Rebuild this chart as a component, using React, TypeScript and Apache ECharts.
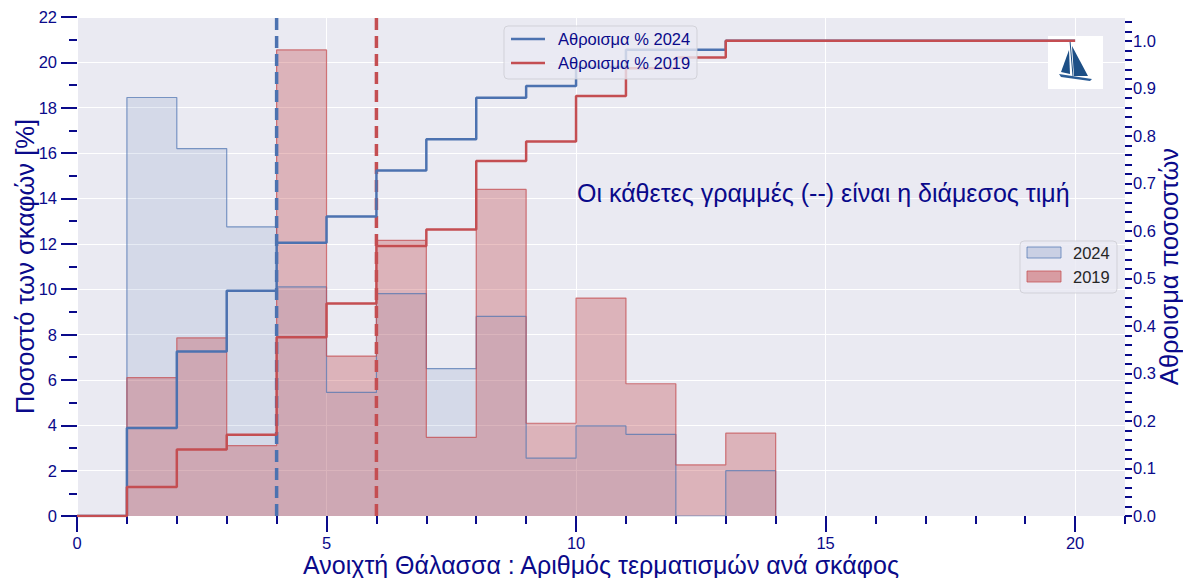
import React, { useEffect, useRef } from "react";
import * as echarts from "echarts";

// bin start values (bins of width 1)
const binStarts = [0, 1, 2, 3, 4, 5, 6, 7, 8, 9, 10, 11, 12, 13, 14, 15, 16, 17, 18, 19];
const binEnd = 20;
// percentage of boats per bin
const pct2024 = [0, 18.45, 16.2, 12.75, 10.1, 5.45, 9.8, 6.5, 8.8, 2.55, 3.97, 3.6, 0, 2.0, 0, 0, 0, 0, 0, 0];
const pct2019 = [0, 6.1, 7.85, 3.1, 20.55, 7.05, 12.15, 3.47, 14.4, 4.09, 9.61, 5.83, 2.25, 3.65, 0, 0, 0, 0, 0, 0];
// cumulative fractions per bin
const cum2024 = [0, 0.185, 0.346, 0.474, 0.575, 0.63, 0.727, 0.793, 0.88, 0.905, 0.945, 0.981, 0.981, 1.0, 1.0, 1.0, 1.0, 1.0, 1.0, 1.0];
const cum2019 = [0, 0.061, 0.14, 0.171, 0.376, 0.447, 0.568, 0.603, 0.747, 0.788, 0.884, 0.942, 0.965, 1.0, 1.0, 1.0, 1.0, 1.0, 1.0, 1.0];
// medians
const median2024 = 4;
const median2019 = 6;

// ticks
const xMajorTicks = [0, 5, 10, 15, 20];
const xMinorTicks = [1, 2, 3, 4, 6, 7, 8, 9, 11, 12, 13, 14, 16, 17, 18, 19, 21];
const yLeftMajorTicks = [0, 2, 4, 6, 8, 10, 12, 14, 16, 18, 20, 22];
const yLeftMinorTicks = [1, 3, 5, 7, 9, 11, 13, 15, 17, 19, 21];
const yRightLabels = [0, 0.1, 0.2, 0.3, 0.4, 0.5, 0.6, 0.7, 0.8, 0.9, 1.0];
const yRightTicks = [
  0, 0.02, 0.04, 0.06, 0.08, 0.1, 0.12, 0.14, 0.16, 0.18, 0.2, 0.22, 0.24, 0.26, 0.28, 0.3,
  0.32, 0.34, 0.36, 0.38, 0.4, 0.42, 0.44, 0.46, 0.48, 0.5, 0.52, 0.54, 0.56, 0.58, 0.6,
  0.62, 0.64, 0.66, 0.68, 0.7, 0.72, 0.74, 0.76, 0.78, 0.8, 0.82, 0.84, 0.86, 0.88, 0.9,
  0.92, 0.94, 0.96, 0.98, 1.0, 1.02, 1.04,
];

const seriesNames = ["2024", "2019"];
const lineLegendNames = ["Αθροισμα % 2024", "Αθροισμα % 2019"];
const xTitle = "Ανοιχτή Θάλασσα : Αριθμός τερματισμών ανά σκάφος";
const yLeftTitle = "Ποσοστό των σκαφών [%]";
const yRightTitle = "Αθροισμα ποσοστών";
const note = "Οι κάθετες γραμμές (--) είναι η διάμεσος τιμή";

const BLUE = "#4c72b0";
const RED = "#c44e52";
const NAVY = "#0a0a8a";
const FONT = "'Liberation Sans', Arial, sans-serif";
const TICK_FONT = 16.5;

function stepPoints(values: number[]) {
  const pts: number[][] = binStarts.map((x, i) => [x, values[i]]);
  pts.push([binEnd, values[values.length - 1]]);
  return pts;
}

// histogram outline limited to the span of non-empty bins
function histPoints(values: number[]) {
  const first = values.findIndex((v) => v > 0);
  let last = values.length - 1;
  while (last > 0 && values[last] === 0) last--;
  const pts: number[][] = [[binStarts[first], 0]];
  for (let i = first; i <= last; i++) pts.push([binStarts[i], values[i]]);
  pts.push([binStarts[last] + 1, 0]);
  return pts;
}

export default function App() {
  const ref = useRef<HTMLDivElement>(null);
  useEffect(() => {
    const chart = echarts.init(ref.current!, null, { renderer: "svg" });
    const tickStyle = { color: NAVY, width: 2 };
    const noLine = { show: false, onZero: false };
    const option: any = {
      animation: false,
      backgroundColor: "#ffffff",
      textStyle: { fontFamily: FONT },
      grid: {
        left: 77,
        right: 58,
        top: 17,
        bottom: 62,
        show: true,
        backgroundColor: "#eaeaf2",
        borderWidth: 0,
        containLabel: false,
        outerBoundsMode: "none",
      },
      xAxis: [
        {
          type: "value",
          min: 0,
          max: 21,
          interval: 5,
          position: "bottom",
          name: xTitle,
          nameLocation: "middle",
          nameGap: 36,
          nameMoveOverlap: false,
          nameTextStyle: { fontSize: 25, color: NAVY, fontFamily: FONT },
          axisLine: noLine,
          axisTick: { show: true, length: 16, lineStyle: tickStyle, customValues: xMajorTicks },
          axisLabel: { color: NAVY, fontSize: TICK_FONT, margin: 18, customValues: xMajorTicks, fontFamily: FONT },
          splitLine: { show: true, lineStyle: { color: "#ffffff", width: 1 } },
        },
        {
          type: "value",
          min: 0,
          max: 21,
          interval: 1,
          position: "bottom",
          axisLine: noLine,
          axisTick: { show: true, length: 8, lineStyle: tickStyle, customValues: xMinorTicks },
          axisLabel: { show: false },
          splitLine: { show: false },
        },
      ],
      yAxis: [
        {
          type: "value",
          min: 0,
          max: 22,
          interval: 2,
          position: "left",
          name: yLeftTitle,
          nameLocation: "middle",
          nameGap: 39,
          nameMoveOverlap: false,
          nameRotate: 90,
          nameTextStyle: { fontSize: 25.5, color: NAVY, fontFamily: FONT },
          axisLine: noLine,
          axisTick: { show: true, length: 16, lineStyle: tickStyle, customValues: yLeftMajorTicks },
          minorTick: { show: false },
          axisLabel: { color: NAVY, fontSize: TICK_FONT, margin: 20, fontFamily: FONT, customValues: yLeftMajorTicks },
          splitLine: { show: true, lineStyle: { color: "#ffffff", width: 1 } },
        },
        {
          type: "value",
          min: 0,
          max: 1.05,
          position: "right",
          name: yRightTitle,
          nameLocation: "middle",
          nameGap: 31,
          nameMoveOverlap: false,
          nameRotate: 90,
          nameTextStyle: { fontSize: 25.5, color: NAVY, fontFamily: FONT },
          axisLine: noLine,
          axisTick: { show: true, length: 7, lineStyle: tickStyle, customValues: yRightTicks },
          minorTick: { show: false },
          axisLabel: {
            color: NAVY,
            fontSize: TICK_FONT,
            margin: 8,
            customValues: yRightLabels,
            formatter: (v: number) => v.toFixed(1),
            fontFamily: FONT,
          },
          splitLine: { show: false },
        },
        {
          type: "value",
          min: 0,
          max: 22,
          interval: 2,
          position: "left",
          axisLine: noLine,
          axisTick: { show: true, length: 8, lineStyle: tickStyle, customValues: yLeftMinorTicks },
          minorTick: { show: false },
          axisLabel: { show: false },
          splitLine: { show: false },
        },
      ],
      series: [
        {
          name: seriesNames[0],
          type: "line",
          xAxisIndex: 0,
          yAxisIndex: 0,
          step: "end",
          symbol: "none",
          data: histPoints(pct2024),
          lineStyle: { color: "rgba(76,114,176,0.7)", width: 1.2 },
          areaStyle: { color: "rgba(76,114,176,0.2)" },
          z: 2,
        },
        {
          name: seriesNames[1],
          type: "line",
          xAxisIndex: 0,
          yAxisIndex: 0,
          step: "end",
          symbol: "none",
          data: histPoints(pct2019),
          lineStyle: { color: "rgba(196,78,82,0.75)", width: 1.2 },
          areaStyle: { color: "rgba(196,78,82,0.5)" },
          z: 2,
        },
        {
          name: "median2024",
          type: "line",
          xAxisIndex: 0,
          yAxisIndex: 0,
          symbol: "none",
          data: [
            [median2024, 0],
            [median2024, 22],
          ],
          lineStyle: { color: BLUE, width: 3.5, type: [12, 6] },
          z: 3,
        },
        {
          name: "median2019",
          type: "line",
          xAxisIndex: 0,
          yAxisIndex: 0,
          symbol: "none",
          data: [
            [median2019, 0],
            [median2019, 22],
          ],
          lineStyle: { color: RED, width: 3.5, type: [12, 6] },
          z: 3,
        },
        {
          name: lineLegendNames[0],
          type: "line",
          xAxisIndex: 0,
          yAxisIndex: 1,
          step: "end",
          symbol: "none",
          data: stepPoints(cum2024),
          lineStyle: { color: BLUE, width: 2.5 },
          z: 4,
        },
        {
          name: lineLegendNames[1],
          type: "line",
          xAxisIndex: 0,
          yAxisIndex: 1,
          step: "end",
          symbol: "none",
          data: stepPoints(cum2019),
          lineStyle: { color: RED, width: 2.5 },
          z: 4,
        },
      ],
      graphic: [
        // logo
        { type: "rect", z: 1, shape: { x: 1048, y: 36, width: 55, height: 53 }, style: { fill: "#ffffff" } },
        { type: "line", z: 1, shape: { x1: 1070, y1: 41, x2: 1073, y2: 76 }, style: { stroke: "#1d4f86", lineWidth: 1 } },
        { type: "polygon", z: 1, shape: { points: [[1069, 50], [1061, 72], [1070, 74]] }, style: { fill: "#1d4f86" } },
        { type: "polygon", z: 1, shape: { points: [[1072, 46], [1088, 76], [1074, 76]] }, style: { fill: "#1d4f86" } },
        { type: "polygon", z: 1, shape: { points: [[1059, 74], [1092, 79], [1090, 81], [1061, 77]] }, style: { fill: "#2a5c96" } },
        // note
        {
          type: "text",
          z: 100,
          x: 577,
          y: 193,
          style: { text: note, fill: NAVY, fontSize: 25, fontFamily: FONT, verticalAlign: "middle" },
        },
        // legend for cumulative lines
        {
          type: "rect",
          z: 100,
          shape: { x: 504, y: 26, width: 193, height: 53, r: 4 },
          style: { fill: "rgba(234,234,242,0.8)", stroke: "rgba(204,204,210,0.8)", lineWidth: 1 },
        },
        { type: "line", z: 101, shape: { x1: 511, y1: 39, x2: 545, y2: 39 }, style: { stroke: BLUE, lineWidth: 2.5 } },
        { type: "line", z: 101, shape: { x1: 511, y1: 63, x2: 545, y2: 63 }, style: { stroke: RED, lineWidth: 2.5 } },
        {
          type: "text",
          z: 101,
          x: 558,
          y: 39,
          style: { text: lineLegendNames[0], fill: NAVY, fontSize: 16.5, fontFamily: FONT, verticalAlign: "middle" },
        },
        {
          type: "text",
          z: 101,
          x: 558,
          y: 63,
          style: { text: lineLegendNames[1], fill: NAVY, fontSize: 16.5, fontFamily: FONT, verticalAlign: "middle" },
        },
        // legend for histograms
        {
          type: "rect",
          z: 100,
          shape: { x: 1020, y: 241, width: 97, height: 52, r: 4 },
          style: { fill: "rgba(234,234,242,0.8)", stroke: "rgba(204,204,210,0.8)", lineWidth: 1 },
        },
        {
          type: "rect",
          z: 101,
          shape: { x: 1027, y: 247, width: 34, height: 11 },
          style: { fill: "#cad0e4", stroke: "rgba(76,114,176,0.7)", lineWidth: 1 },
        },
        {
          type: "rect",
          z: 101,
          shape: { x: 1027, y: 271, width: 34, height: 11 },
          style: { fill: "#d89ca2", stroke: "rgba(196,78,82,0.75)", lineWidth: 1 },
        },
        {
          type: "text",
          z: 101,
          x: 1073,
          y: 253,
          style: { text: seriesNames[0], fill: "#262626", fontSize: 16.5, fontFamily: FONT, verticalAlign: "middle" },
        },
        {
          type: "text",
          z: 101,
          x: 1073,
          y: 277,
          style: { text: seriesNames[1], fill: "#262626", fontSize: 16.5, fontFamily: FONT, verticalAlign: "middle" },
        },
      ],
    };
    chart.setOption(option);
    return () => chart.dispose();
  }, []);
  return <div ref={ref} style={{ position: "absolute", left: 0, top: 0, width: 1183, height: 578 }} />;
}
